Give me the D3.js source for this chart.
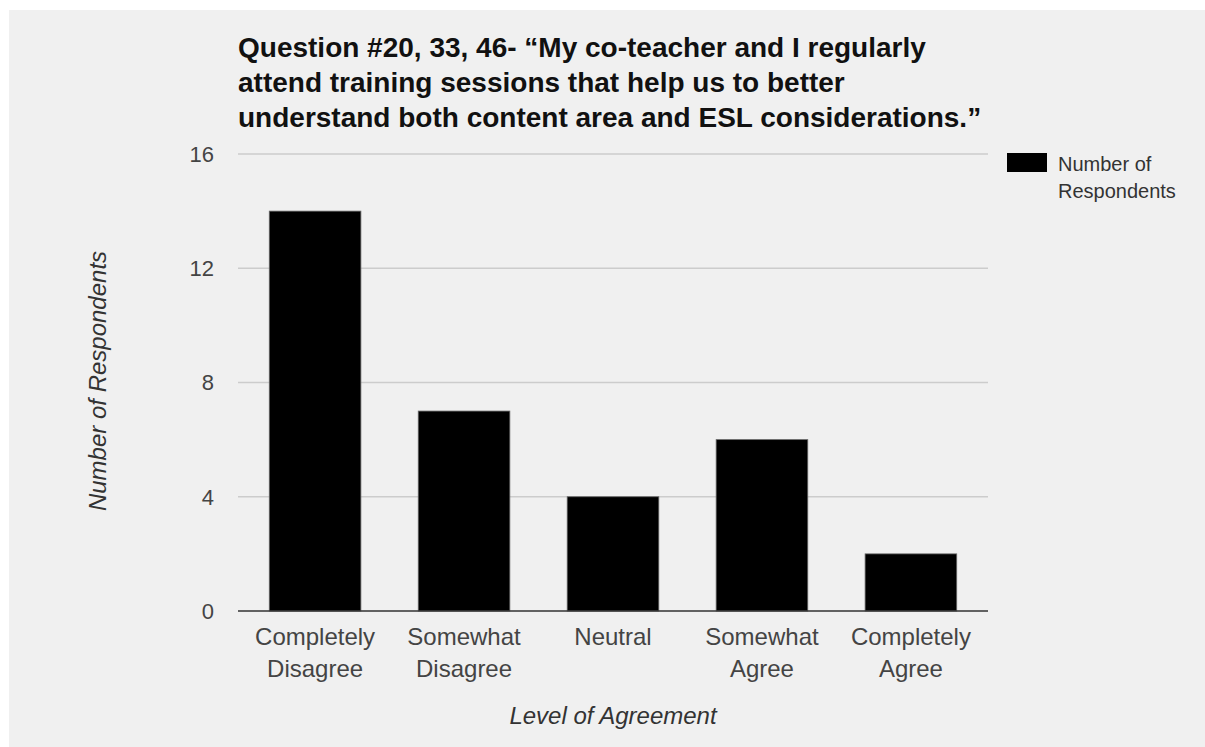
<!DOCTYPE html>
<html><head><meta charset="utf-8">
<script src="https://cdn.jsdelivr.net/npm/d3@7"></script>
<style>body{margin:0;background:#fff}svg{display:block}text{font-family:"Liberation Sans",Arial,sans-serif}</style>
</head><body><svg id="c" width="1205" height="747"></svg>
<script>
const categories = [["Completely","Disagree"],["Somewhat","Disagree"],["Neutral"],["Somewhat","Agree"],["Completely","Agree"]];
const values = [14, 7, 4, 6, 2];
const yTicks = [0, 4, 8, 12, 16];
const titleLines = ["Question #20, 33, 46- \u201cMy co-teacher and I regularly","attend training sessions that help us to better","understand both content area and ESL considerations.\u201d"];
const seriesName = ["Number of","Respondents"];

const svg = d3.select("#c");
svg.append("rect").attr("x",9).attr("y",10).attr("width",1196).attr("height",737).attr("fill","#f0f0f0");

const L = 238, R = 988, T = 154, B = 611;
const x = d3.scaleBand().domain(d3.range(categories.length)).range([L, R]).paddingInner(0.385).paddingOuter(0.21);
const y = d3.scaleLinear().domain([0,16]).range([B, T]);

// gridlines
svg.append("g").selectAll("line").data(yTicks.slice(1)).join("line")
  .attr("x1",L).attr("x2",R).attr("y1",d=>y(d)).attr("y2",d=>y(d))
  .attr("stroke","#cccccc").attr("stroke-width",1.5);

// y tick labels
svg.append("g").selectAll("text").data(yTicks).join("text")
  .attr("x",214).attr("y",d=>y(d)).attr("dy","0.36em").attr("text-anchor","end")
  .attr("font-size",22).attr("fill","#444").text(d=>d);

// bars
svg.append("g").selectAll("rect").data(values).join("rect")
  .attr("x",(d,i)=>x(i)).attr("width",x.bandwidth())
  .attr("y",d=>y(d)).attr("height",d=>B-y(d))
  .attr("fill","#000").attr("stroke","#666").attr("stroke-width",0.8);

// baseline
svg.append("line").attr("x1",L).attr("x2",R).attr("y1",B).attr("y2",B).attr("stroke","#333").attr("stroke-width",1.5);

// x labels
const xl = svg.append("g").selectAll("text").data(categories).join("text")
  .attr("text-anchor","middle").attr("font-size",24).attr("fill","#444")
  .attr("x",(d,i)=>x(i)+x.bandwidth()/2).attr("y",645);
xl.selectAll("tspan").data(d=>d).join("tspan")
  .attr("x",function(){return this.parentNode.getAttribute("x");})
  .attr("dy",(d,i)=>i?32:0).text(d=>d);

// axis titles
svg.append("text").attr("x",613).attr("y",724).attr("text-anchor","middle")
  .attr("font-size",24).attr("font-style","italic").attr("fill","#333").text("Level of Agreement");
svg.append("text").attr("transform","translate(106,381) rotate(-90)").attr("text-anchor","middle")
  .attr("font-size",24).attr("font-style","italic").attr("fill","#333").text("Number of Respondents");

// title
svg.append("g").selectAll("text").data(titleLines).join("text")
  .attr("x",238).attr("y",(d,i)=>57+i*35).attr("font-size",28).attr("font-weight","bold").attr("fill","#111").text(d=>d);

// legend
svg.append("rect").attr("x",1007).attr("y",153).attr("width",40).attr("height",19).attr("fill","#000");
svg.append("g").selectAll("text").data(seriesName).join("text")
  .attr("x",1058).attr("y",(d,i)=>171+i*27).attr("font-size",20).attr("fill","#333").text(d=>d);
</script></body></html>
